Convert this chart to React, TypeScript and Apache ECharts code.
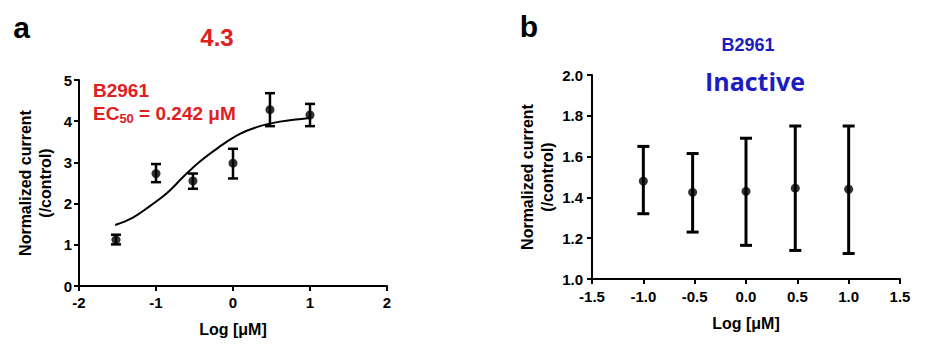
import React, { useEffect, useRef } from "react";
import * as echarts from "echarts";

// Panel a: B2961 concentration-response (log µM)
const logConcA = [-1.52, -1, -0.52, 0, 0.48, 1];
const meanA = [1.12, 2.73, 2.55, 2.98, 4.28, 4.15];
const lowA = [1.01, 2.52, 2.36, 2.61, 3.88, 3.88];
const highA = [1.245, 2.96, 2.73, 3.33, 4.68, 4.42];
// fitted curve
const fitX = [-1.53, -1.3, -1.08, -0.86, -0.645, -0.43, -0.19, 0.09, 0.35, 0.61, 1.0];
const fitY = [1.48, 1.66, 1.94, 2.25, 2.65, 3.02, 3.36, 3.69, 3.88, 3.99, 4.08];

// Panel b: B2961 inactive
const logConcB = [-1, -0.52, 0, 0.48, 1];
const meanB = [1.48, 1.425, 1.43, 1.445, 1.44];
const lowB = [1.32, 1.23, 1.165, 1.14, 1.125];
const highB = [1.65, 1.615, 1.69, 1.75, 1.75];

const xTicksA = [-2, 2, 1];
const yTicksA = [0, 5, 1];
const xTicksB = [-1.5, 1.5, 0.5];
const yTicksB = [1.0, 2.0, 0.2];

const RED = "#e0201e";
const BLUE = "#1c1cc0";
const FONT = "'Liberation Sans', Arial, sans-serif";

export default function App() {
  const ref = useRef<HTMLDivElement>(null);
  useEffect(() => {
    if (!ref.current) return;
    const chart = echarts.init(ref.current, undefined, { renderer: "svg" });

    const axisCommon = (fmt: (v: number) => string, margin: number) => ({
      axisLine: { show: true, onZero: false, lineStyle: { color: "#000", width: 2 } },
      axisTick: { show: true, inside: false, length: 5, lineStyle: { color: "#000", width: 2 } },
      axisLabel: {
        color: "#000",
        fontFamily: FONT,
        fontWeight: "bold",
        fontSize: 15,
        margin,
        formatter: (v: number) => fmt(v),
      },
      splitLine: { show: false },
      nameTextStyle: { color: "#000", fontFamily: FONT, fontWeight: "bold", fontSize: 16, lineHeight: 20 },
    });

    const errRender = (lw: number, hw: number) => (params: any, api: any) => {
      const x = api.value(0);
      const lo = api.value(1);
      const hi = api.value(2);
      const t = api.coord([x, hi]);
      const b = api.coord([x, lo]);
      const st = { stroke: "#000", lineWidth: lw };
      return {
        type: "group",
        children: [
          { type: "line", shape: { x1: t[0], y1: t[1], x2: b[0], y2: b[1] }, style: st },
          { type: "line", shape: { x1: t[0] - hw, y1: t[1], x2: t[0] + hw, y2: t[1] }, style: st },
          { type: "line", shape: { x1: b[0] - hw, y1: b[1], x2: b[0] + hw, y2: b[1] }, style: st },
        ],
      };
    };

    const fmtInt = (v: number) => (v < 0 ? "-" + Math.abs(v) : String(v));
    const fmt1 = (v: number) => v.toFixed(1);

    chart.setOption({
      animation: false,
      grid: [
        { left: 79, top: 80, width: 308, height: 206 },
        { left: 592, top: 75, width: 308, height: 204 },
      ],
      xAxis: [
        {
          type: "value", gridIndex: 0, min: xTicksA[0], max: xTicksA[1], interval: xTicksA[2],
          name: "Log [μM]", nameLocation: "middle", nameGap: 33,
          ...axisCommon(fmtInt, 9),
        },
        {
          type: "value", gridIndex: 1, min: xTicksB[0], max: xTicksB[1], interval: xTicksB[2],
          name: "Log [μM]", nameLocation: "middle", nameGap: 34,
          ...axisCommon(fmt1, 10),
        },
      ],
      yAxis: [
        {
          type: "value", gridIndex: 0, min: yTicksA[0], max: yTicksA[1], interval: yTicksA[2],
          name: "Normalized current\n(/control)", nameLocation: "middle", nameGap: 24, nameRotate: 90,
          ...axisCommon(fmtInt, 7),
        },
        {
          type: "value", gridIndex: 1, min: yTicksB[0], max: yTicksB[1], interval: yTicksB[2],
          name: "Normalized current\n(/control)", nameLocation: "middle", nameGap: 35, nameRotate: 90,
          ...axisCommon(fmt1, 9),
        },
      ],
      series: [
        {
          type: "line", xAxisIndex: 0, yAxisIndex: 0, smooth: 0.4, showSymbol: false,
          lineStyle: { color: "#000", width: 2 },
          data: fitX.map((x, i) => [x, fitY[i]]),
          silent: true,
        },
        {
          type: "custom", xAxisIndex: 0, yAxisIndex: 0,
          renderItem: errRender(2.5, 5),
          encode: { x: 0, y: [1, 2] },
          data: logConcA.map((x, i) => [x, lowA[i], highA[i]]),
        },
        {
          type: "scatter", xAxisIndex: 0, yAxisIndex: 0, symbol: "circle", symbolSize: 9,
          itemStyle: { color: "#000" },
          data: logConcA.map((x, i) => [x, meanA[i]]),
        },
        {
          type: "custom", xAxisIndex: 1, yAxisIndex: 1,
          renderItem: errRender(3, 6),
          encode: { x: 0, y: [1, 2] },
          data: logConcB.map((x, i) => [x, lowB[i], highB[i]]),
        },
        {
          type: "scatter", xAxisIndex: 1, yAxisIndex: 1, symbol: "circle", symbolSize: 9,
          itemStyle: { color: "#000" },
          data: logConcB.map((x, i) => [x, meanB[i]]),
        },
      ],
      graphic: [
        { type: "text", x: 21.5, y: 27.5, style: { text: "a", font: `bold 30px ${FONT}`, fill: "#000", align: "center", verticalAlign: "middle" } },
        { type: "text", x: 217, y: 37, style: { text: "4.3", font: `bold 24px ${FONT}`, fill: RED, align: "center", verticalAlign: "middle" } },
        { type: "text", x: 93, y: 90.5, style: { text: "B2961", font: `bold 19px ${FONT}`, fill: RED, align: "left", verticalAlign: "middle" } },
        {
          type: "text", x: 93, y: 113,
          style: {
            text: "{m|EC}{s|50}{m| = 0.242 μM}",
            align: "left", verticalAlign: "middle",
            rich: {
              m: { fontFamily: FONT, fontWeight: "bold", fontSize: 19, fill: RED, lineHeight: 24 },
              s: { fontFamily: FONT, fontWeight: "bold", fontSize: 13, fill: RED, lineHeight: 24, verticalAlign: "bottom" },
            },
          },
        },
        { type: "text", x: 529, y: 26.5, style: { text: "b", font: `bold 30px ${FONT}`, fill: "#000", align: "center", verticalAlign: "middle" } },
        { type: "text", x: 748, y: 44.5, style: { text: "B2961", font: `bold 18px ${FONT}`, fill: BLUE, align: "center", verticalAlign: "middle" } },
        { type: "text", x: 755, y: 80.5, style: { text: "Inactive", font: `bold 25px 'Open Sans', sans-serif`, fill: BLUE, align: "center", verticalAlign: "middle" } },
      ],
    });
    return () => chart.dispose();
  }, []);
  return <div ref={ref} style={{ width: 926, height: 352, position: "absolute", left: 0, top: 0, background: "#fff" }} />;
}
